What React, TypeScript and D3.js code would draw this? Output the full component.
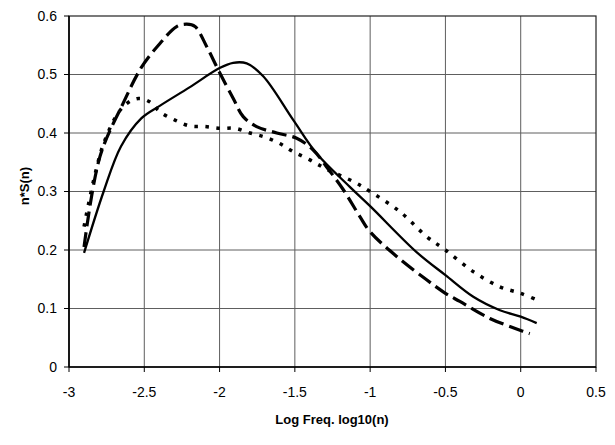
import React from 'react';
import * as d3 from 'd3';

// x positions (log10 n) and n*S(n) values
const solidX = [-2.9, -2.77, -2.655, -2.52, -2.4, -2.2, -2.0, -1.91, -1.82, -1.71, -1.51, -1.355, -1.135, -1.0, -0.69, -0.5, -0.315, -0.138, 0.0, 0.106];
const solidY = [0.195, 0.3, 0.377, 0.425, 0.446, 0.478, 0.511, 0.52, 0.519, 0.497, 0.422, 0.365, 0.308, 0.275, 0.196, 0.157, 0.12, 0.097, 0.086, 0.075];

const dashX = [-2.9, -2.794, -2.64, -2.517, -2.396, -2.285, -2.218, -2.163, -2.086, -2.009, -1.909, -1.843, -1.754, -1.62, -1.488, -1.378, -1.289, -1.178, -1.068, -1.0, -0.824, -0.625, -0.5, -0.404, -0.205, -0.005, 0.06];
const dashY = [0.205, 0.36, 0.451, 0.513, 0.553, 0.582, 0.586, 0.582, 0.548, 0.508, 0.459, 0.428, 0.411, 0.4, 0.391, 0.371, 0.342, 0.303, 0.257, 0.231, 0.189, 0.149, 0.126, 0.112, 0.083, 0.063, 0.057];

const dotX = [-2.9, -2.77, -2.64, -2.54, -2.462, -2.396, -2.296, -2.197, -2.097, -1.997, -1.898, -1.798, -1.699, -1.6, -1.51, -1.4, -1.289, -1.112, -1.0, -0.8, -0.625, -0.5, -0.315, -0.138, 0.0, 0.095];
const dotY = [0.24, 0.382, 0.445, 0.459, 0.453, 0.436, 0.422, 0.412, 0.411, 0.408, 0.408, 0.4, 0.393, 0.382, 0.368, 0.354, 0.338, 0.317, 0.3, 0.265, 0.223, 0.2, 0.163, 0.137, 0.126, 0.116];

const xTicks = [-3, -2.5, -2, -1.5, -1, -0.5, 0, 0.5];
const yTicks = [0, 0.1, 0.2, 0.3, 0.4, 0.5, 0.6];

const series = [
  { xs: solidX, ys: solidY, dash: 'none', w: 2.3 },
  { xs: dashX, ys: dashY, dash: '15,6', w: 3.2 },
  { xs: dotX, ys: dotY, dash: '3.5,7.5', w: 3.5 },
];

export default function App() {
  const width = 615;
  const height = 445;
  const left = 69, right = 596, top = 16, bottom = 367;

  const x = d3.scaleLinear().domain([-3, 0.5]).range([left, right]);
  const y = d3.scaleLinear().domain([0, 0.6]).range([bottom, top]);

  const line = d3.line<[number, number]>()
    .x(d => x(d[0]))
    .y(d => y(d[1]))
    .curve(d3.curveCatmullRom.alpha(0.5));

  const font = 'Arial, "Liberation Sans", sans-serif';

  return (
    <svg width={width} height={height} style={{ position: 'absolute', left: 0, top: 0, background: '#fff' }}>
      {/* grid */}
      {xTicks.slice(1, -1).map(t => (
        <line key={'gx' + t} x1={x(t)} x2={x(t)} y1={top} y2={bottom} stroke="#5e5e5e" strokeWidth={1} />
      ))}
      {yTicks.slice(1, -1).map(t => (
        <line key={'gy' + t} x1={left} x2={right} y1={y(t)} y2={y(t)} stroke="#5e5e5e" strokeWidth={1} />
      ))}
      <rect x={left} y={top} width={right - left} height={bottom - top} fill="none" stroke="#222" strokeWidth={1.2} />
      <line x1={left} x2={left} y1={top} y2={bottom} stroke="#000" strokeWidth={1.6} />
      <line x1={left} x2={right} y1={bottom} y2={bottom} stroke="#000" strokeWidth={1.6} />

      {/* ticks */}
      {yTicks.map(t => (
        <g key={'ty' + t}>
          <line x1={left - 5} x2={left} y1={y(t)} y2={y(t)} stroke="#000" />
          <text x={57} y={y(t)} dy="0.35em" textAnchor="end" fontFamily={font} fontSize={14}>{t}</text>
        </g>
      ))}
      {xTicks.map(t => (
        <g key={'tx' + t}>
          <line x1={x(t)} x2={x(t)} y1={bottom} y2={bottom + 5} stroke="#000" />
          <text x={x(t)} y={397} textAnchor="middle" fontFamily={font} fontSize={14}>{t}</text>
        </g>
      ))}

      {/* series */}
      {series.map((s, i) => (
        <path
          key={i}
          d={line(s.xs.map((v, j) => [v, s.ys[j]] as [number, number])) || ''}
          fill="none"
          stroke="#000"
          strokeWidth={s.w}
          strokeDasharray={s.dash}
        />
      ))}

      {/* titles */}
      <text x={332} y={424} textAnchor="middle" fontFamily={font} fontSize={13} fontWeight="bold">Log Freq. log10(n)</text>
      <text transform="translate(24,186) rotate(-90)" textAnchor="middle" dy="0.35em" fontFamily={font} fontSize={13} fontWeight="bold">n*S(n)</text>
    </svg>
  );
}
